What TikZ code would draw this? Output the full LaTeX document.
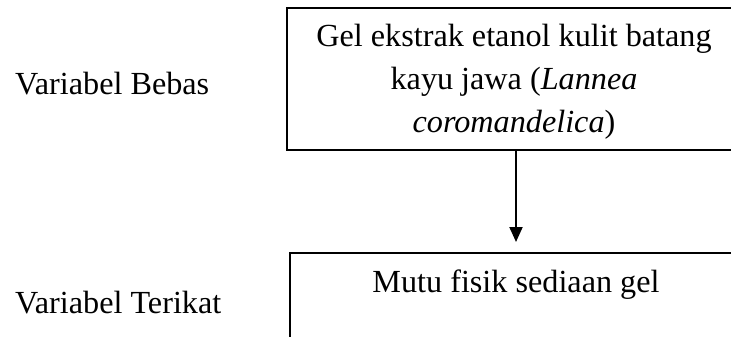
\documentclass[tikz,border=0pt]{standalone}
\usepackage{fontspec}
\setmainfont{Liberation Serif}
\usetikzlibrary{arrows.meta}
\begin{document}
\begin{tikzpicture}[x=1pt,y=1pt,
  lbl/.style={anchor=base west,inner sep=0pt,font=\fontsize{32.2}{43}\selectfont},
  boxnode/.style={draw,line width=2pt,rectangle,inner sep=0pt},
  txt/.style={align=center,inner sep=0pt,font=\fontsize{32.2}{43}\selectfont},
  conn/.style={line width=2pt,-{Triangle[width=13pt,length=15pt]}}]
\useasboundingbox (0,0) rectangle (731,-337);
\clip (0,0) rectangle (731,-337);
\node[boxnode,minimum width=454pt,minimum height=142pt] (top) at (514,-79) {};
\node[txt,anchor=base] (toptext) at (514,-132) {Gel ekstrak etanol kulit batang\\kayu jawa (\textit{Lannea}\\\textit{coromandelica})};
\node[boxnode,minimum width=452pt,minimum height=120pt] (bot) at (516,-313) {};
\node[txt,anchor=base] (bottext) at (516,-292) {Mutu fisik sediaan gel};
\node[lbl] (bebas) at (15,-95) {Variabel Bebas};
\node[lbl] (terikat) at (15,-313) {Variabel Terikat};
\draw[conn,shorten >=10pt] ([xshift=2pt]top.south) -- ([xshift=2pt]top.south |- bot.north);
\end{tikzpicture}
\end{document}
